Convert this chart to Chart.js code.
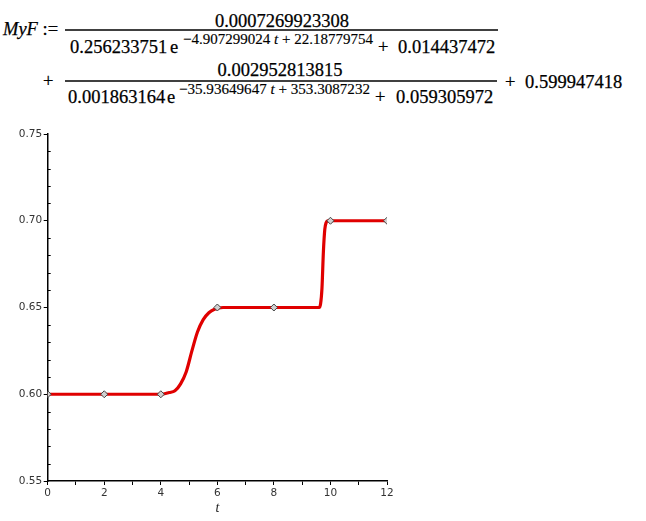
<!DOCTYPE html>
<html lang="en">
<head>
<meta charset="UTF-8">
<title>MyF</title>
<script src="https://cdn.jsdelivr.net/npm/chart.js@4.4.1/dist/chart.umd.min.js"></script>
<style>
  body { margin: 0; background: #fff; width: 646px; height: 521px; overflow: hidden; position: relative; }
  #formula { position: absolute; left: 0; top: 0; }
  #plot { position: absolute; left: 0; top: 120px; }
</style>
</head>
<body>
<svg id="formula" width="646" height="118" font-family="'Liberation Serif', 'Times New Roman', serif" font-size="18.5" fill="#000" stroke="#000" stroke-width="0.25">
  <text x="3" y="35"><tspan font-style="italic">MyF</tspan> :=</text>
  <line x1="65" y1="30" x2="498" y2="30" stroke="#000" stroke-width="1.3"/>
  <text x="282" y="27" text-anchor="middle">0.0007269923308</text>
  <text x="70" y="53">0.256233751</text>
  <text x="170" y="53">e</text>
  <text x="183" y="44" font-size="15" stroke-width="0.15" textLength="190" lengthAdjust="spacingAndGlyphs">&#8722;4.907299024 <tspan font-style="italic">t</tspan> + 22.18779754</text>
  <text x="378" y="53">+</text>
  <text x="398" y="53">0.014437472</text>

  <text x="43" y="87">+</text>
  <line x1="65" y1="81" x2="497" y2="81" stroke="#000" stroke-width="1.3"/>
  <text x="280" y="76" text-anchor="middle">0.002952813815</text>
  <text x="68" y="103">0.001863164</text>
  <text x="167" y="103">e</text>
  <text x="179" y="94" font-size="15" stroke-width="0.15" textLength="191" lengthAdjust="spacingAndGlyphs">&#8722;35.93649647 <tspan font-style="italic">t</tspan> + 353.3087232</text>
  <text x="375" y="103">+</text>
  <text x="396" y="103">0.059305972</text>
  <text x="505" y="88">+</text>
  <text x="525" y="88">0.599947418</text>
</svg>

<canvas id="plot" width="420" height="400"></canvas>

<script>
// measured points (diamonds)
const pointT = [0, 2, 4, 6, 8, 10, 12];
const pointY = [0.60, 0.60, 0.60, 0.65, 0.65, 0.70, 0.70];

// red curve
const curveT = [0, 1, 2, 3, 4, 4.3, 4.5, 4.7, 4.9, 5.1, 5.3, 5.5, 5.7, 5.9, 6.2, 7, 8, 9, 9.5, 9.6, 9.65, 9.7, 9.75, 9.8, 9.85, 9.9, 10, 11, 12];
const curveY = [0.600, 0.600, 0.600, 0.600, 0.600, 0.601, 0.602, 0.606, 0.613, 0.625, 0.636, 0.643, 0.647, 0.649, 0.650, 0.650, 0.650, 0.650, 0.650, 0.650, 0.652, 0.661, 0.682, 0.695, 0.699, 0.700, 0.700, 0.700, 0.700];

const xTickLabels = ['0', '2', '4', '6', '8', '10', '12'];
const yTickLabels = ['0.55', '0.60', '0.65', '0.70', '0.75'];

const tickFont = { family: "'DejaVu Sans', sans-serif", size: 10.5 };

function yIndex(v) {
    return Math.round((v - 0.55) * 100);
}

// minor y ticks point into the plot, like the original
const minorTicks = {
    id: 'minorTicks',
    afterDraw(chart) {
        const y = chart.scales.y;
        const ctx = chart.ctx;
        ctx.save();
        ctx.strokeStyle = '#000';
        ctx.lineWidth = 1;
        y.ticks.forEach(t => {
            if (yIndex(t.value) % 5 === 0) return;
            const py = Math.round(y.getPixelForValue(t.value)) + 0.5;
            ctx.beginPath();
            ctx.moveTo(y.right, py);
            ctx.lineTo(y.right + 3, py);
            ctx.stroke();
        });
        ctx.restore();
    }
};

new Chart(document.getElementById('plot'), {
    type: 'scatter',
    data: {
        datasets: [
            {
                data: pointT.map((t, i) => ({ x: t, y: pointY[i] })),
                pointStyle: 'rectRot',
                pointRadius: 3.5,
                backgroundColor: '#d0d0d0',
                borderColor: '#444',
                borderWidth: 1,
                order: 0
            },
            {
                data: curveT.map((t, i) => ({ x: t, y: curveY[i] })),
                showLine: true,
                borderColor: '#e00000',
                borderWidth: 3.2,
                pointRadius: 0,
                cubicInterpolationMode: 'monotone',
                order: 1
            }
        ]
    },
    options: {
        responsive: false,
        animation: false,
        layout: { padding: { top: 14, right: 33, left: 0, bottom: 0 } },
        plugins: { legend: { display: false }, tooltip: { enabled: false } },
        scales: {
            x: {
                type: 'linear',
                min: 0,
                max: 12,
                afterFit: s => { s.height = 39; },
                ticks: {
                    stepSize: 1,
                    autoSkip: false,
                    maxRotation: 0,
                    padding: 2,
                    color: '#333',
                    font: tickFont,
                    callback: v => (v % 2 === 0 ? xTickLabels[v / 2] : '')
                },
                grid: { drawOnChartArea: false, color: '#000', tickLength: 4 },
                border: { color: '#000', width: 1.5 },
                title: {
                    display: true,
                    text: 't',
                    color: '#222',
                    font: { family: "'Liberation Serif', serif", size: 14, style: 'italic' },
                    padding: { top: 0, bottom: 3 }
                }
            },
            y: {
                min: 0.55,
                max: 0.75,
                afterFit: s => { s.width = 47.7; },
                ticks: {
                    stepSize: 0.01,
                    autoSkip: false,
                    padding: 1.5,
                    color: '#333',
                    font: tickFont,
                    callback: v => (yIndex(v) % 5 === 0 ? yTickLabels[yIndex(v) / 5] : '')
                },
                grid: {
                    drawOnChartArea: false,
                    tickLength: 4,
                    color: c => (c.tick && yIndex(c.tick.value) % 5 === 0 ? '#000' : 'rgba(0,0,0,0)')
                },
                border: { color: '#000', width: 1.5 }
            }
        }
    },
    plugins: [minorTicks]
});
</script>
</body>
</html>
